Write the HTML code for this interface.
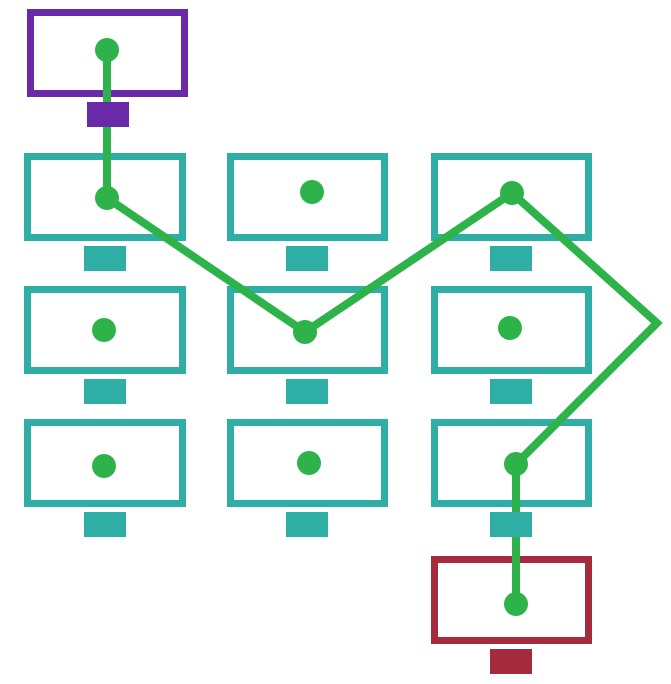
<!DOCTYPE html>
<html><head><style>html,body{margin:0;padding:0;background:#fff;}</style></head>
<body>
<svg width="671" height="679" viewBox="0 0 671 679" xmlns="http://www.w3.org/2000/svg">
<g fill="none" stroke-width="7">
<rect x="30.5" y="12.5" width="154" height="81" stroke="#6a2aa8"/>
<g stroke="#2eaea4">
<rect x="27.5" y="156.5" width="155" height="81"/>
<rect x="230.5" y="156.5" width="154" height="81"/>
<rect x="434.5" y="156.5" width="154" height="81"/>
<rect x="27.5" y="289.5" width="155" height="81"/>
<rect x="230.5" y="289.5" width="154" height="81"/>
<rect x="434.5" y="289.5" width="154" height="81"/>
<rect x="27.5" y="422.5" width="155" height="81"/>
<rect x="230.5" y="422.5" width="154" height="81"/>
<rect x="434.5" y="422.5" width="154" height="81"/>
</g>
<rect x="434.5" y="559.5" width="154" height="81" stroke="#a62a3e"/>
</g>
<polyline points="107,50 107,198 305,332 512,193 657,323 516,464 516,604" fill="none" stroke="#2db34a" stroke-width="8" stroke-linejoin="miter"/>
<g fill="#2db34a">
<circle cx="107" cy="50" r="12"/><circle cx="107" cy="198" r="12"/>
<circle cx="305" cy="332" r="12"/><circle cx="512" cy="193" r="12"/>
<circle cx="516" cy="464" r="12"/><circle cx="516" cy="604" r="12"/>
<circle cx="104" cy="330" r="12"/><circle cx="104" cy="466" r="12"/>
<circle cx="312" cy="192" r="12"/><circle cx="309" cy="463" r="12"/>
<circle cx="510" cy="328" r="12"/>
</g>
<rect x="87" y="102" width="42" height="25" fill="#6a2aa8"/>
<g fill="#2eaea4">
<rect x="84" y="246" width="42" height="25"/><rect x="286" y="246" width="42" height="25"/><rect x="490" y="246" width="42" height="25"/>
<rect x="84" y="379" width="42" height="25"/><rect x="286" y="379" width="42" height="25"/><rect x="490" y="379" width="42" height="25"/>
<rect x="84" y="512" width="42" height="25"/><rect x="286" y="512" width="42" height="25"/><rect x="490" y="512" width="42" height="25"/>
</g>
<rect x="490" y="649" width="42" height="25" fill="#a62a3e"/>
</svg>
</body></html>
